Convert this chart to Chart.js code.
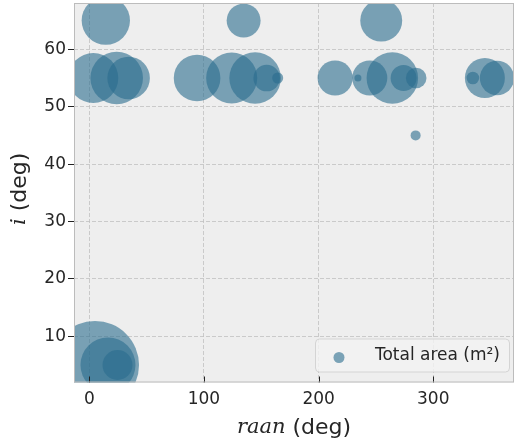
<!DOCTYPE html>
<html>
<head>
<meta charset="utf-8">
<script src="https://cdn.jsdelivr.net/npm/chart.js@4.4.1/dist/chart.umd.min.js"></script>
<style>
  html, body { margin: 0; padding: 0; background: #fff; }
  #wrap { width: 515px; height: 444px; }
</style>
</head>
<body>
<div id="wrap"><canvas id="orbits" width="515" height="444"></canvas></div>
<script>
// raan (deg), inclination i (deg) and total area per orbit
const raan = [3.5, 23.9, 34.3, 94, 124.2, 144.6, 154.7, 164.3, 214.4, 234.3, 244.6, 264.3,
              274.1, 285.1, 334.5, 345, 355.6, 14.4, 134.6, 254.6, 284.6, 5, 16.3, 24.6];
const incl = [55, 55, 55, 55, 55, 55, 55, 55, 55, 55, 55, 55,
              55, 55, 55, 55, 55, 65, 65, 65, 45, 5, 5, 5];
const totalArea = [156, 173, 113, 136, 163, 166, 44, 7.6, 77, 3.1, 77, 166,
                   42, 26.5, 9.9, 100, 74, 146, 72, 110, 6.3, 484, 189, 56];

const xTicks = [0, 100, 200, 300];
const yTicks = [10, 20, 30, 40, 50, 60];

const bubbleColor = 'rgba(41,108,141,0.6)';
const textColor = '#262626';

const points = raan.map((x, k) => ({ x: x, y: incl[k], r: 2 * Math.sqrt(totalArea[k]) }));

const frame = {
    id: 'frame',
    beforeDraw(chart) {
        const { ctx, chartArea: a } = chart;
        ctx.save();
        ctx.fillStyle = '#eeeeee';
        ctx.fillRect(a.left, a.top, a.right - a.left, a.bottom - a.top);
        ctx.restore();
    },
    afterDatasetsDraw(chart) {
        const { ctx, chartArea: a, scales } = chart;
        ctx.save();
        // x ticks point inwards
        ctx.strokeStyle = '#222';
        ctx.lineWidth = 1;
        xTicks.forEach(v => {
            const px = Math.round(scales.x.getPixelForValue(v)) + 0.5;
            ctx.beginPath();
            ctx.moveTo(px, a.bottom);
            ctx.lineTo(px, a.bottom - 6);
            ctx.stroke();
        });
        ctx.strokeStyle = '#bcbcbc';
        ctx.strokeRect(a.left + 0.5, a.top + 0.5, a.right - a.left - 1, a.bottom - a.top - 1);

        // legend
        const w = 194, h = 33;
        const lx = a.right - 5 - w, ly = a.bottom - 11 - h;
        ctx.beginPath();
        ctx.roundRect(lx + 0.5, ly + 0.5, w, h, 4);
        ctx.fillStyle = 'rgba(242,242,242,0.8)';
        ctx.fill();
        ctx.strokeStyle = '#d4d4d4';
        ctx.stroke();
        ctx.beginPath();
        ctx.arc(lx + 24, ly + 19, 5.5, 0, Math.PI * 2);
        ctx.fillStyle = bubbleColor;
        ctx.fill();
        ctx.fillStyle = textColor;
        ctx.font = '17px "DejaVu Sans"';
        ctx.textBaseline = 'middle';
        ctx.textAlign = 'right';
        ctx.fillText('Total area (m²)', lx + w - 9, ly + 17);
        ctx.textAlign = 'left';

        // axis titles with math-style italic symbols
        const drawTitle = (sym, rest, cx, cy, rot) => {
            ctx.save();
            ctx.translate(cx, cy);
            ctx.rotate(rot);
            ctx.font = 'italic 21px "DejaVu Serif"';
            const w1 = ctx.measureText(sym).width;
            ctx.font = '22px "DejaVu Sans"';
            const w2 = ctx.measureText(rest).width;
            let x0 = -(w1 + w2) / 2;
            ctx.textBaseline = 'middle';
            ctx.fillStyle = textColor;
            ctx.font = 'italic 21px "DejaVu Serif"';
            ctx.fillText(sym, x0, 0);
            ctx.font = '22px "DejaVu Sans"';
            ctx.fillText(rest, x0 + w1, 0);
            ctx.restore();
        };
        const midX = (a.left + a.right) / 2, midY = (a.top + a.bottom) / 2;
        drawTitle('raan', ' (deg)', midX, 428, 0);
        drawTitle('i', ' (deg)', 20, midY - 4, -Math.PI / 2);
        ctx.restore();
    }
};

const gridOpts = {
    color: '#c0c0c0',
    lineWidth: 0.8,
    tickColor: '#222',
    tickWidth: 1,
    tickBorderDash: []
};

new Chart(document.getElementById('orbits'), {
    type: 'bubble',
    data: {
        datasets: [{
            label: 'Total area (m²)',
            data: points,
            backgroundColor: bubbleColor,
            borderWidth: 0,
            hoverBorderWidth: 0,
            hoverRadius: 0,
            clip: 0
        }]
    },
    options: {
        responsive: false,
        animation: false,
        devicePixelRatio: 1,
        events: [],
        layout: { autoPadding: false, padding: { top: 3, right: 1, left: 0, bottom: 0 } },
        plugins: { legend: { display: false }, tooltip: { enabled: false } },
        scales: {
            x: {
                type: 'linear',
                min: -13.34,
                max: 370.4,
                afterBuildTicks: s => { s.ticks = xTicks.map(v => ({ value: v })); },
                afterFit: s => { s.height = 61.5; s.paddingLeft = 0; s.paddingRight = 0; },
                grid: { ...gridOpts, drawTicks: false },
                border: { display: false, dash: [4, 2] },
                ticks: { color: textColor, font: { family: 'DejaVu Sans', size: 17 }, padding: 7, maxRotation: 0 }
            },
            y: {
                type: 'linear',
                min: 1.95,
                max: 68.07,
                afterBuildTicks: s => { s.ticks = yTicks.map(v => ({ value: v })); },
                afterFit: s => { s.width = 74; s.paddingTop = 0; s.paddingBottom = 0; },
                grid: { ...gridOpts, tickLength: 6 },
                border: { display: false, dash: [4, 2] },
                ticks: { color: textColor, font: { family: 'DejaVu Sans', size: 17 }, padding: 2 }
            }
        }
    },
    plugins: [frame]
});
</script>
</body>
</html>
